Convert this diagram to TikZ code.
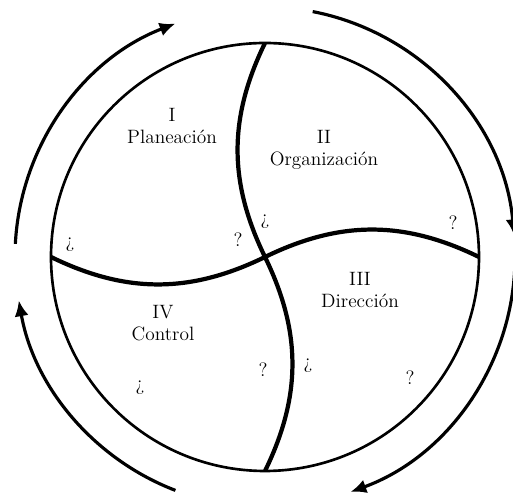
\documentclass[tikz,border=0pt]{standalone}
\usepackage{tikz}
\usetikzlibrary{arrows.meta}

\begin{document}
\begin{tikzpicture}[>={Latex[length=9pt,width=8pt]}, x=0.02cm, y=0.02cm,
    ring/.style={line width=1.5pt},
    spoke/.style={line width=2.4pt},
    flow/.style={line width=1.8pt, ->},
    stage/.style={font=\fontsize{11}{12.5}\selectfont, align=center},
    qmark/.style={font=\fontsize{11}{12.5}\selectfont}]
  \useasboundingbox (-265,-245) rectangle (248,257);
  \draw[ring] (0,0) circle[radius=214];
  \coordinate (c) at (0,0);
  \coordinate (n) at (90:214);
  \coordinate (e) at (0:214);
  \coordinate (s) at (-90:214);
  \coordinate (w) at (180:214);
  \draw[spoke] (c) to[bend left=26] (n);
  \draw[spoke] (c) to[bend left=26] (e);
  \draw[spoke] (c) to[bend left=26] (s);
  \draw[spoke] (c) to[bend left=26] (w);
  \draw[flow] (177:250) arc[start angle=177, end angle=111, radius=250];
  \draw[flow] (79:250) arc[start angle=79, end angle=5, radius=250];
  \draw[flow] (-2:250) arc[start angle=-2, end angle=-70, radius=250];
  \draw[flow] (-111:250) arc[start angle=-111, end angle=-170, radius=250];
  \node[stage] (plan) at (-93,131) {I\\Planeación};
  \node[stage] (org) at (59,107) {II\\Organización};
  \node[stage] (dir) at (95,-33) {III\\Dirección};
  \node[stage] (ctrl) at (-102,-66) {IV\\Control};
  \node[qmark] (q1) at (-195,12) {¿};
  \node[qmark] (q2) at (-27,17) {?};
  \node[qmark] (q3) at (0,35) {¿};
  \node[qmark] (q4) at (188,34) {?};
  \node[qmark] (q5) at (43,-109) {¿};
  \node[qmark] (q6) at (145,-121) {?};
  \node[qmark] (q7) at (-125,-131) {¿};
  \node[qmark] (q8) at (-2,-113) {?};
\end{tikzpicture}
\end{document}
